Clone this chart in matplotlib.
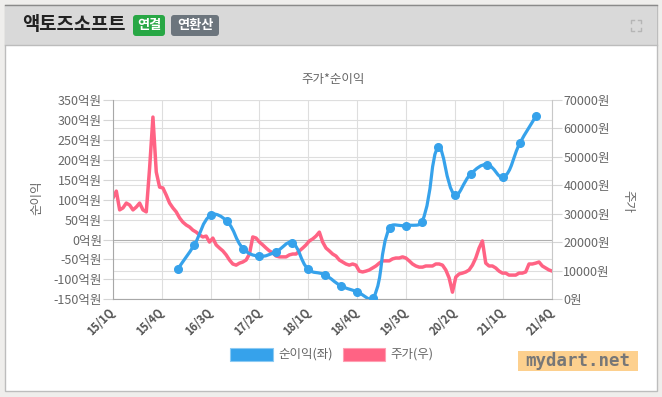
import numpy as np
import matplotlib
matplotlib.use('Agg')
import matplotlib.pyplot as plt
from matplotlib.path import Path
from matplotlib.patches import PathPatch, Rectangle, FancyBboxPatch
from matplotlib.transforms import blended_transform_factory

plt.rcParams['font.family'] = ['Noto Sans CJK KR', 'DejaVu Sans']

W, H = 662, 397

# quarters 15/1Q .. 21/4Q
quarters = ['%d/%dQ' % (y, q) for y in range(15, 22) for q in range(1, 5)]
tick_step = 3

# 순이익 (억원), 16/1Q .. 21/3Q
income_start = '16/1Q'
income = [-73, -13, 61, 46, -23, -42, -31, -8, -75, -88, -116, -131, -147,
          30, 35, 45, 231, 112, 165, 188, 156, 241, 310]

# 주가 (원), evenly spaced samples from 15/1Q to 21/4Q
price = [35600, 38000, 31400, 32100, 33800, 33100, 31400, 32400, 33800, 31400,
         30700, 46100, 64000, 44700, 39400, 39100, 36600, 33800, 32100, 30700,
         28600, 27100, 26100, 25400, 24300, 23600, 22600, 21900, 22200, 20100,
         21500, 19100, 18000, 17000, 15600, 13800, 12400, 12000, 12700, 13100,
         13800, 15900, 21900, 21500, 20100, 19100, 18000, 17000, 16300, 15200,
         14900, 14900, 14900, 15600, 15900, 15900, 17000, 18000, 19100, 20500,
         21200, 22200, 23600, 20100, 18000, 17000, 15900, 15200, 13800, 13100,
         12400, 12000, 12400, 12000, 9900, 9600, 9900, 10300, 11000, 11700,
         12700, 13500, 13500, 13500, 14200, 14500, 14500, 14900, 14500, 13500,
         12400, 11700, 11300, 11300, 11700, 11700, 11700, 12400, 12400, 12000,
         10300, 7500, 2500, 7800, 8900, 9200, 9600, 10300, 12000, 14500,
         18000, 20500, 12700, 11700, 11700, 11000, 9900, 9200, 9200, 8500,
         8500, 8500, 9200, 9200, 9600, 12400, 12400, 12700, 13100, 11700,
         11000, 10300, 9900]

left_ticks = list(range(-150, 351, 50))
right_ticks = list(range(0, 70001, 10000))

blue = '#36a2eb'
pink = '#ff6384'
grid_c = '#dedede'
txt_c = '#666666'

fig = plt.figure(figsize=(W / 100, H / 100), dpi=100)
fig.patch.set_facecolor('#efeeec')

# background card in pixel coords
bg = fig.add_axes([0, 0, 1, 1], zorder=0)
bg.set_xlim(0, W)
bg.set_ylim(H, 0)
bg.axis('off')
bg.add_patch(Rectangle((5, 5), 652, 386, fc='white', ec='#bdbdbd', lw=1))
bg.add_patch(Rectangle((5, 5), 652, 40, fc='#d9d9d9', ec='none'))
bg.plot([5, 657], [5, 5], color='#8a8a8a', lw=1)
bg.plot([5, 657], [45, 45], color='#bcbcbc', lw=1)
bg.text(22, 25, '액토즈소프트', fontsize=13.5, weight='bold', color='#222222', va='center')
bg.add_patch(FancyBboxPatch((133, 15), 32, 21, boxstyle='round,pad=0,rounding_size=3',
                            fc='#28a745', ec='none'))
bg.text(149, 25.5, '연결', fontsize=9.5, weight='bold', color='white', ha='center', va='center')
bg.add_patch(FancyBboxPatch((171, 15), 48, 21, boxstyle='round,pad=0,rounding_size=3',
                            fc='#6c757d', ec='none'))
bg.text(195, 25.5, '연환산', fontsize=9.5, weight='bold', color='white', ha='center', va='center')
# expand icon
for cx, cy, dx, dy in [(631, 20, 1, 1), (641, 20, -1, 1), (631, 31, 1, -1), (641, 31, -1, -1)]:
    bg.plot([cx, cx, cx + 3 * dx], [cy + 3 * dy, cy, cy], color='#b5b5b5', lw=1)

bg.text(333, 80, '주가*순이익', fontsize=9, color=txt_c, ha='center', va='center')
bg.text(37, 198, '순이익', fontsize=9, color=txt_c, rotation=90, ha='center', va='center')
bg.text(628, 201, '주가', fontsize=9, color=txt_c, rotation=-90, ha='center', va='center')

# legend
bg.add_patch(Rectangle((230, 348), 43, 13, fc=blue, ec='#8ccaf3', lw=0.8))
bg.text(278, 354.5, '순이익(좌)', fontsize=9, color=txt_c, va='center')
bg.add_patch(Rectangle((343, 348), 42, 13, fc=pink, ec='#ff9fb2', lw=0.8))
bg.text(390, 354.5, '주가(우)', fontsize=9, color=txt_c, va='center')

# watermark
bg.add_patch(Rectangle((518, 351), 120, 20, fc='#fdd08e', ec='none'))
bg.text(578, 361.5, 'mydart.net', fontsize=12.5, weight='bold', color='#777777',
        family='DejaVu Sans Mono', ha='center', va='center')

# chart axes
ax = fig.add_axes([113 / W, 1 - 299.3 / H, 439.3 / W, 199.3 / H])
ax2 = ax.twinx()
ax.set_zorder(2)
ax2.set_zorder(1)
ax.patch.set_visible(False)

ax.set_xlim(0, len(quarters) - 1)
ax.set_ylim(left_ticks[0], left_ticks[-1])
ax2.set_ylim(right_ticks[0], right_ticks[-1])

xt = list(range(0, len(quarters), tick_step))
ax.set_xticks(xt)
ax.set_xticklabels([quarters[i] for i in xt], rotation=45, ha='right', va='center',
                   rotation_mode='anchor', fontsize=8, weight='bold', color='#555555')
ax.tick_params(axis='x', length=0, pad=8)
ax.set_yticks(left_ticks)
ax.set_yticklabels(['%d억원' % v for v in left_ticks])
ax.tick_params(axis='y', length=7, color='#d5d5d5', labelsize=9, labelcolor=txt_c, pad=1)
ax2.set_yticks(right_ticks)
ax2.set_yticklabels(['%d원' % v for v in right_ticks])
ax2.tick_params(axis='y', length=7, color='#d5d5d5', labelsize=9, labelcolor=txt_c, pad=1)

for s in ['top', 'right']:
    ax.spines[s].set_visible(False)
for s in ['left', 'bottom']:
    ax.spines[s].set_color('#a8a8a8')
for s in ['top', 'left', 'bottom']:
    ax2.spines[s].set_visible(False)
ax2.spines['right'].set_color('#c8c8c8')

# grid (all on the lower axes)
ax2.set_axisbelow(True)
ax2.grid(axis='y', color=grid_c, lw=0.8)
trans = blended_transform_factory(ax2.transAxes, ax.transData)
for v in left_ticks:
    ax2.plot([0, 1], [v, v], transform=trans, color='#b0b0b0' if v == 0 else grid_c,
             lw=0.8, zorder=0.5)
for q in xt:
    ax2.axvline(q, color=grid_c, lw=0.8, zorder=0.5)

# price
px = np.linspace(0, len(quarters) - 1, len(price))
ax2.plot(px, price, color=pink, lw=2.5, zorder=2, solid_joinstyle='round')


# income, smoothed like chart.js (tension 0.4)
def smooth_path(a, xs, ys, t=0.4):
    pts = a.transData.transform(np.column_stack([xs, ys]))
    n = len(pts)
    cps = []
    for i in range(n):
        prev = pts[max(i - 1, 0)]
        nxt = pts[min(i + 1, n - 1)]
        cur = pts[i]
        d01 = np.hypot(*(cur - prev))
        d12 = np.hypot(*(nxt - cur))
        s = d01 + d12
        fa = t * d01 / s if s else 0
        fb = t * d12 / s if s else 0
        cps.append((cur - fa * (nxt - prev), cur + fb * (nxt - prev)))
    verts = [pts[0]]
    codes = [Path.MOVETO]
    for i in range(1, n):
        verts += [cps[i - 1][1], cps[i][0], pts[i]]
        codes += [Path.CURVE4] * 3
    verts = a.transData.inverted().transform(np.array(verts))
    return Path(verts, codes)


ix = np.arange(len(income)) + quarters.index(income_start)
ax.add_patch(PathPatch(smooth_path(ax, ix, income), fill=False, ec=blue, lw=2.3,
                       capstyle='round', joinstyle='round', zorder=3))
ax.plot(ix, income, 'o', ms=5.5, color=blue, zorder=4)

fig.savefig('out.png', dpi=100, facecolor=fig.get_facecolor())
